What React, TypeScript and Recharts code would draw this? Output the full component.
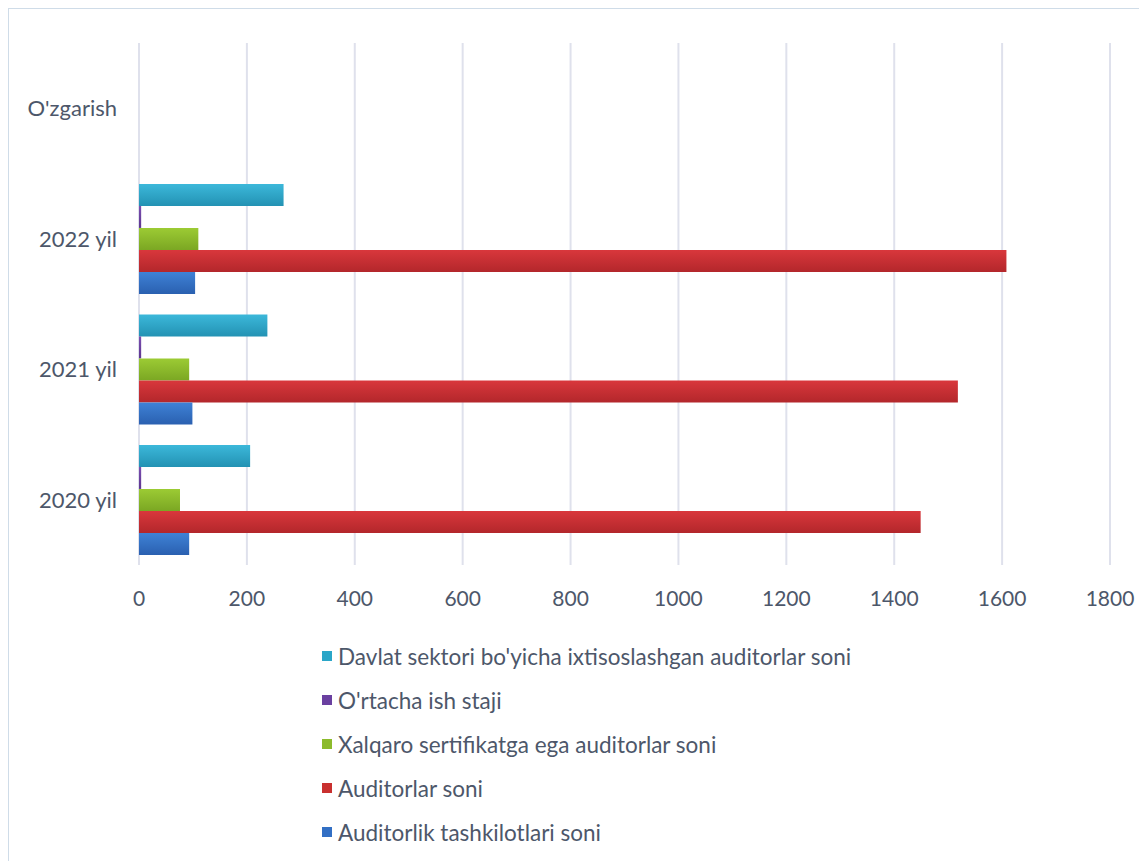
import React from "react";
import { BarChart, Bar, XAxis, YAxis, CartesianGrid, Legend } from "recharts";

// categories top-to-bottom as drawn
const years = ["O'zgarish", "2022 yil", "2021 yil", "2020 yil"];

const davlatSektori = [null, 268, 238, 206];
const ishStaji = [null, 4, 4, 4];
const xalqaroSert = [null, 110, 93, 76];
const auditorlar = [null, 1608, 1518, 1449];
const tashkilotlar = [null, 104, 99, 93];

const xTicks = [0, 200, 400, 600, 800, 1000, 1200, 1400, 1600, 1800];

const series = [
  { key: "davlat", name: "Davlat sektori bo'yicha ixtisoslashgan auditorlar soni", top: "#3cb8da", bottom: "#2392b3", swatch: "#2aa6c8" },
  { key: "staj", name: "O'rtacha ish staji", top: "#7b4fb0", bottom: "#5d3590", swatch: "#6a40a0" },
  { key: "xalqaro", name: "Xalqaro sertifikatga ega auditorlar soni", top: "#9ccb34", bottom: "#7ba723", swatch: "#8cbb2c" },
  { key: "auditor", name: "Auditorlar soni", top: "#d9373c", bottom: "#b3272b", swatch: "#c9302f" },
  { key: "tashkilot", name: "Auditorlik tashkilotlari soni", top: "#3f82d6", bottom: "#2a60b0", swatch: "#326fc4" },
];

const data = years.map((name, i) => ({
  name,
  davlat: davlatSektori[i],
  staj: ishStaji[i],
  xalqaro: xalqaroSert[i],
  auditor: auditorlar[i],
  tashkilot: tashkilotlar[i],
}));

const FONT = "Lato, 'Noto Sans', sans-serif";
const TEXT = "#4d576a";

function LegendList() {
  return (
    <div style={{ height: 240, paddingTop: 19, boxSizing: "border-box", fontFamily: FONT }}>
      {series.map((s) => (
        <div key={s.key} style={{ height: 44, display: "flex", alignItems: "center" }}>
          <span style={{ width: 10, height: 10, background: s.swatch, display: "inline-block", marginRight: 6 }} />
          <span style={{ fontSize: 22.5, color: TEXT }}>{s.name}</span>
        </div>
      ))}
    </div>
  );
}

export default function App() {
  return (
    <div style={{ width: 1131, height: 852, border: "1px solid #cfdce8", background: "#fff" }}>
      <BarChart
        width={1131}
        height={852}
        data={data}
        layout="vertical"
        margin={{ top: 34, right: 30, left: 0, bottom: 6 }}
        barCategoryGap="8%"
        barGap={0}
      >
        <defs>
          {series.map((s) => (
            <linearGradient key={s.key} id={`g-${s.key}`} x1="0" y1="0" x2="0" y2="1">
              <stop offset="0%" stopColor={s.top} />
              <stop offset="100%" stopColor={s.bottom} />
            </linearGradient>
          ))}
        </defs>
        <CartesianGrid horizontal={false} stroke="#dfe1ec" strokeWidth={2} />
        <XAxis
          type="number"
          domain={[0, 1800]}
          ticks={xTicks}
          axisLine={false}
          tickLine={false}
          tickSize={0}
          tickMargin={26}
          height={50}
          tick={{ fill: TEXT, fontSize: 21, fontFamily: FONT }}
        />
        <YAxis
          type="category"
          dataKey="name"
          width={130}
          axisLine={false}
          tickLine={false}
          tickSize={0}
          tickMargin={22}
          tick={{ fill: TEXT, fontSize: 22, fontFamily: FONT }}
        />
        <Legend
          layout="vertical"
          verticalAlign="bottom"
          align="center"
          content={() => <LegendList />}
          wrapperStyle={{ left: 313, width: 760 }}
        />
        {series.map((s) => (
          <Bar key={s.key} dataKey={s.key} name={s.name} fill={`url(#g-${s.key})`} isAnimationActive={false} />
        ))}
      </BarChart>
    </div>
  );
}
